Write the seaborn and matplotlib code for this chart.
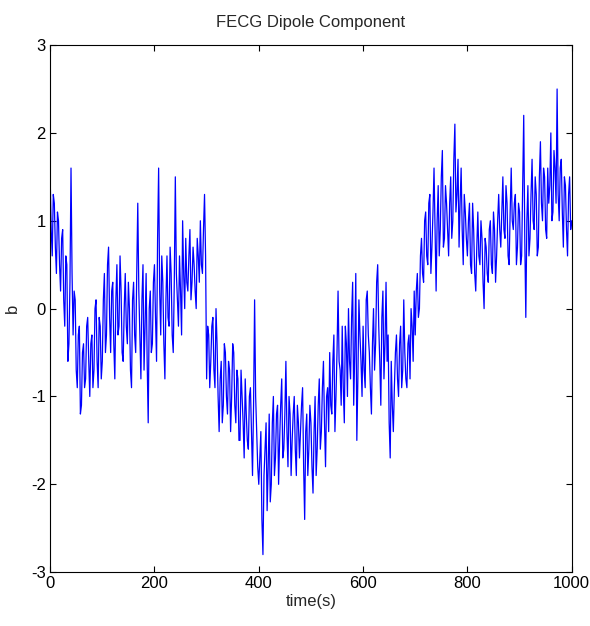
import numpy as np
import pandas as pd
import matplotlib
matplotlib.use('Agg')
import matplotlib.pyplot as plt
import seaborn as sns

# Signal values, one every 4 s (t = 0, 4, 8, ...)
b_000 = [1.5, 0.6, 1.2, 0.4, 1.0, 0.2, 0.9, -0.2, 0.5, -0.4, 1.6, -0.3, 0.1, -0.9, -0.2, -1.1, -0.4, -0.8, -0.1, -1.0, -0.3, -0.7, 0.1, -0.9, -0.2]
b_100 = [-0.6, 0.4, -0.3, 0.7, -0.5, 0.3, -0.8, 0.5, -0.2, 0.2, -0.6, 0.4, -0.4, 0.0, -0.9, 0.3, -0.5, 1.2, -0.3, 0.1, -0.7, 0.4, -1.3, 0.2, -0.4]
b_200 = [0.5, -0.6, 1.6, -0.3, 0.3, -0.8, 0.6, -0.2, 0.4, -0.5, 1.5, 0.1, 0.6, -0.3, 0.4, 0.8, 0.2, 0.9, 0.3, 0.5, 0.0, 0.6, 1.0, 0.4, 1.3]
b_300 = [-0.8, -0.3, -0.6, -0.1, -0.9, -0.4, -1.4, -0.6, -1.1, -0.5, -1.2, -0.7, -1.0, -0.5, -1.3, -0.8, -1.5, -1.0, -1.7, -1.2, -1.6, -0.9, -1.9, 0.1, -1.4]
b_400 = [-2.0, -1.4, -2.8, -1.6, -2.3, -1.2, -2.0, -1.0, -1.7, -1.1, -1.5, -0.8, -1.6, -0.6, -1.8, -1.2, -1.5, -1.0, -1.9, -1.3, -1.4, -0.9, -2.4, -1.2, -1.6]
b_500 = [-1.3, -2.1, -1.0, -1.6, -0.8, -1.4, -0.6, -1.8, -0.9, -0.5, -1.2, -0.3, -1.0, 0.2, -0.7, -0.2, -1.3, -0.4, 0.0, -0.8, 0.3, -0.5, -1.5, 0.1, -0.6]
b_600 = [-0.2, -0.9, 0.2, -0.5, -1.2, 0.0, -0.4, 0.5, -0.6, -0.1, -0.8, 0.3, -0.3, -1.7, -1.1, -0.9, -0.3, -1.0, -0.2, -0.7, -0.5, -0.9, -0.3, 0.0, -0.6]
b_700 = [-0.3, 0.4, 0.0, 0.8, 0.3, 1.1, 0.5, 1.3, 0.7, 1.6, 0.2, 1.4, 0.9, 1.8, 0.8, 1.2, 0.6, 1.5, 1.0, 2.1, 1.3, 0.7, 1.6, 0.5, 1.1]
b_800 = [0.6, 1.2, 0.4, 0.9, 0.2, 1.1, 0.5, 0.8, 0.0, 0.7, 0.3, 1.0, 0.4, 0.9, 0.6, 1.3, 0.7, 1.5, 0.8, 1.2, 0.5, 1.6, 0.9, 1.3, 0.7]
b_900 = [1.1, 0.6, 2.2, -0.1, 1.4, 0.8, 1.7, 0.9, 1.3, 0.7, 1.9, 1.0, 1.5, 0.8, 1.2, 2.0, 1.1, 1.6, 2.5, 1.0, 1.7, 0.7, 1.4, 0.6, 1.5]
b_end = [1.0]

# In-between samples (t = 2, 6, 10, ...)
m_000 = [0.9, 1.3, 0.7, 1.1, 0.5, 0.8, 0.1, 0.6, -0.6, 0.3, 0.4, 0.2, -0.7, -0.3, -1.2, -0.5, -0.9, -0.2, -0.6, -0.4, -0.9, 0.0, -0.6, -0.1, -0.8]
m_100 = [0.1, -0.5, 0.5, -0.1, 0.2, -0.4, 0.1, -0.3, 0.6, -0.5, 0.0, -0.2, 0.3, -0.7, 0.1, -0.3, 0.4, 0.2, -0.8, 0.5, -0.2, -0.6, 0.0, -0.5, 0.3]
m_200 = [-0.1, 0.8, 0.2, 0.6, -0.4, 0.1, -0.1, 0.7, -0.3, 0.3, 0.4, -0.2, 0.2, 1.0, 0.0, 0.3, 0.6, 0.1, 0.7, 0.2, 0.8, 0.3, 0.5, 0.9, 0.6]
m_300 = [-0.2, -0.9, -0.2, -0.7, 0.0, -1.0, -0.8, -1.3, -0.4, -1.0, -0.6, -1.4, -0.4, -1.1, -0.7, -1.5, -0.7, -1.3, -0.8, -1.5, -1.0, -1.4, -1.1, -1.0, -1.8]
m_400 = [-1.7, -2.4, -1.9, -1.3, -1.8, -2.2, -1.3, -1.9, -1.2, -2.0, -1.1, -1.7, -1.2, -1.4, -1.0, -1.9, -1.2, -1.6, -1.1, -1.7, -1.1, -1.8, -1.4, -1.9, -1.1]
m_500 = [-1.8, -1.4, -1.9, -1.1, -1.6, -0.9, -1.3, -1.0, -1.4, -1.1, -0.6, -1.4, -0.5, -0.6, -1.1, -0.9, -0.2, -1.0, -0.6, -0.1, -1.1, 0.4, -0.8, -0.3, -1.0]
m_600 = [-0.7, 0.1, -0.3, -0.9, -0.4, -0.7, 0.3, -0.2, -1.1, 0.2, -0.4, -0.6, -1.3, -0.6, -1.4, -0.5, -0.8, -0.4, -0.9, 0.1, -0.8, -0.4, -0.8, -0.2, 0.2]
m_700 = [0.2, -0.1, 0.6, 0.4, 1.0, 0.6, 1.2, 0.4, 1.1, 0.9, 1.0, 0.6, 1.5, 0.7, 1.4, 0.9, 1.2, 0.8, 1.7, 1.1, 1.7, 1.2, 0.9, 1.3, 0.8]
m_800 = [1.0, 0.5, 1.2, 0.4, 0.7, 0.6, 1.0, 0.3, 0.8, 0.4, 0.9, 0.5, 1.1, 0.3, 1.0, 0.9, 1.1, 0.9, 1.4, 0.6, 1.1, 1.0, 1.2, 0.5, 1.2]
m_900 = [0.5, 1.4, 0.8, 1.0, 0.6, 1.3, 1.0, 1.5, 0.6, 1.5, 1.2, 1.6, 0.9, 1.6, 1.4, 1.0, 1.8, 1.2, 1.3, 1.6, 1.1, 1.5, 0.9, 1.3, 0.9]

main = b_000 + b_100 + b_200 + b_300 + b_400 + b_500 + b_600 + b_700 + b_800 + b_900 + b_end
mid = m_000 + m_100 + m_200 + m_300 + m_400 + m_500 + m_600 + m_700 + m_800 + m_900

b = np.empty(len(main) + len(mid))
b[0::2] = main
b[1::2] = mid
t = np.arange(0, 2 * len(b), 2)
df = pd.DataFrame({'time': t, 'b': b})

x_ticks = [0, 200, 400, 600, 800, 1000]
y_ticks = [-3, -2, -1, 0, 1, 2, 3]

sns.set_theme(style="ticks")
plt.rcParams['font.family'] = ['Liberation Sans', 'DejaVu Sans']
plt.rcParams['axes.unicode_minus'] = False

fig = plt.figure(figsize=(5.9, 6.26), dpi=100)
ax = fig.add_axes([0.085, 0.086, 0.884, 0.842])
sns.lineplot(data=df, x='time', y='b', color='blue', linewidth=0.9, ax=ax)

ax.set_xlim(0, 1000)
ax.set_ylim(-3, 3)
ax.set_xticks(x_ticks)
ax.set_yticks(y_ticks)
ax.tick_params(direction='in', top=True, right=True, length=4, width=0.8,
               labelsize=12, colors='black', pad=3)
for s in ax.spines.values():
    s.set_linewidth(0.8)
    s.set_color('black')
ax.set_xlabel('time(s)', fontsize=12, labelpad=2)
ax.set_ylabel('b', fontsize=12, labelpad=8)
ax.set_title('FECG Dipole Component', fontsize=12, pad=13)

fig.savefig('out.png', dpi=100, facecolor='white')
